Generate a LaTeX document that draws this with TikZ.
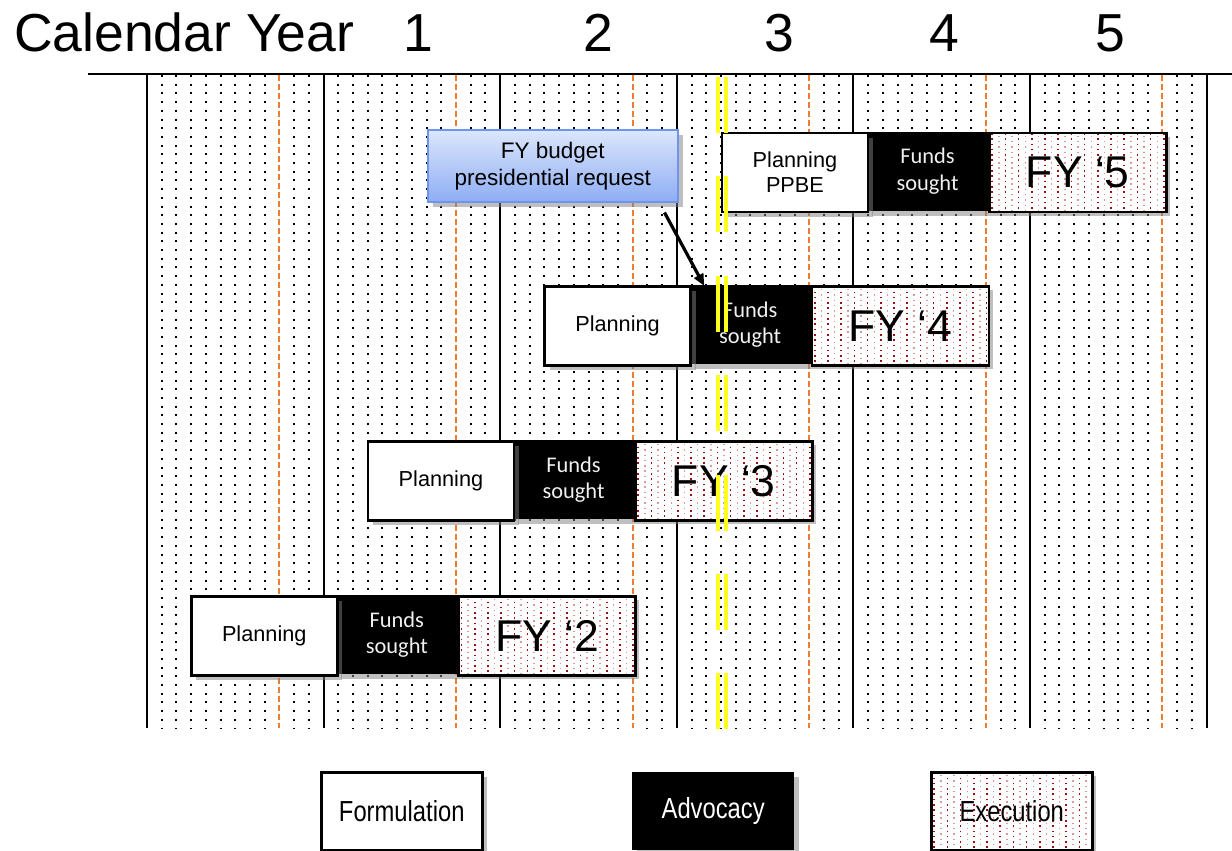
\documentclass[tikz,border=0pt]{standalone}
\usepackage{fontspec}
\setmainfont{Liberation Sans}
\newfontfamily\calfont{Carlito}
\newfontfamily\narrowfont[FakeStretch=0.82]{Liberation Sans}
\usetikzlibrary{arrows.meta,shadows}
\definecolor{orangeline}{HTML}{ED7D31}
\definecolor{dotred}{HTML}{9A1010}
\definecolor{dotpink}{HTML}{DA9A9A}
\definecolor{fytop}{HTML}{DCE6FC}
\definecolor{fybot}{HTML}{8EAEF3}
\definecolor{fyborder}{HTML}{6E95EE}
\definecolor{ylw}{HTML}{FFFF22}
\begin{document}
\begin{tikzpicture}[x=1pt,y=-1pt,
  myshadow/.style={drop shadow={shadow xshift=5pt,shadow yshift=-5pt,fill=black!50,opacity=0.5}},
  shadowfill/.style={fill=black!50,opacity=0.5},
  griddot/.style={line width=2pt,black,dash pattern=on 2pt off 6.7pt},
  yearline/.style={line width=2pt,black},
  fyline/.style={orangeline,line width=2pt,dash pattern=on 6pt off 3pt},
  ylwline/.style={ylw,line width=4pt,dash pattern=on 56pt off 43.4pt},
  headtext/.style={anchor=base,inner sep=0pt,font=\fontsize{53.5}{60}\selectfont},
  planbox/.style={draw=black,line width=2.5pt,fill=white,inner sep=0pt,anchor=north west,align=center,
    font=\fontsize{21.7}{25}\selectfont,myshadow,minimum height=79pt},
  fundbox/.style={fill=black,text=black!6,inner sep=0pt,anchor=north west,align=center,
    font=\calfont\fontsize{22.4}{26.7}\selectfont,myshadow,minimum height=79pt},
  legendtext/.style={font=\narrowfont\fontsize{29}{32}\selectfont},
  execbox/.style={draw=black,line width=2.5pt,fill=white,inner sep=0pt,anchor=north west,
    font=\fontsize{44.5}{50}\selectfont,minimum height=79pt,
    path picture={
      \foreach \i in {0,...,15}{
        \draw[dotred,line width=1.6pt,dash pattern=on 1.6pt off 3.7pt]
          ([xshift={3pt+\i*13.2pt}]path picture bounding box.north west) --
          ([xshift={3pt+\i*13.2pt}]path picture bounding box.south west);
        \draw[dotpink,line width=1.5pt,dash pattern=on 1.5pt off 3.8pt,dash phase=2.6pt]
          ([xshift={9.6pt+\i*13.2pt}]path picture bounding box.north west) --
          ([xshift={9.6pt+\i*13.2pt}]path picture bounding box.south west);
      }
    }},
  fybox/.style={top color=fytop,bottom color=fybot,draw=fyborder,line width=1.5pt,inner sep=0pt,
    anchor=north west,align=center,font=\fontsize{22.5}{27}\selectfont,myshadow},
  arrowst/.style={line width=3.2pt,-{Triangle[length=12pt,width=10pt]}}
]
\useasboundingbox (0,0) rectangle (1232,851);

% ---- grid ----
\foreach \yr in {0,...,5}{
  \foreach \m in {1,2,3,4,5,6,7,8,10,11}{
    \draw[griddot] ({147+\yr*176.6+\m*14.7167},75) -- ({147+\yr*176.6+\m*14.7167},728);
  }
}
\foreach \k in {0,...,6}{
  \draw[yearline] ({147+\k*176.6},74) -- ({147+\k*176.6},728);
}
\foreach \k in {0,...,5}{
  \draw[fyline] ({279.45+\k*176.6},75) -- ({279.45+\k*176.6},728);
}
\draw[line width=2pt] (88,74) -- (1232,74);

% ---- header ----
\node[anchor=base west,inner sep=0pt,font=\fontsize{53.5}{60}\selectfont] (title) at (14,52) {Calendar Year};
\node[headtext] (yr1) at (418,52) {1};
\node[headtext] (yr2) at (598,52) {2};
\node[headtext] (yr3) at (779,52) {3};
\node[headtext] (yr4) at (944,52) {4};
\node[headtext] (yr5) at (1110,52) {5};

% ---- FY budget request ----
\node[fybox,minimum width=250pt,minimum height=72pt] (fy) at (427,129) {FY budget\\presidential request};

% ---- FY '2 ----
\node[fundbox,minimum width=121.3pt] (f2) at (336,595) {Funds\\sought};
\node[planbox,minimum width=146pt] (p2) at (190,595) {Planning};
\fill[shadowfill] (462.3,600) rectangle (639.3,679);
\node[execbox,minimum width=177pt] (e2) at (457.3,595) {FY ‘2};

% ---- FY '3 ----
\node[fundbox,minimum width=121.3pt] (f3) at (512.7,440) {Funds\\sought};
\node[planbox,minimum width=146pt] (p3) at (366.7,440) {Planning};
\fill[shadowfill] (639,445) rectangle (816,524);
\node[execbox,minimum width=177pt] (e3) at (634,440) {FY ‘3};

% ---- FY '4 ----
\node[fundbox,minimum width=121.3pt] (f4) at (689.3,285) {Funds\\sought};
\node[planbox,minimum width=146pt] (p4) at (543.3,285) {Planning};
\fill[shadowfill] (815.6,290) rectangle (992.6,369);
\node[execbox,minimum width=177pt] (e4) at (810.6,285) {FY ‘4};

% ---- FY '5 ----
\node[fundbox,minimum width=121.3pt] (f5) at (866.7,131.7) {Funds\\sought};
\node[planbox,minimum width=146pt] (p5) at (720.7,131.7) {Planning\\PPBE};
\fill[shadowfill] (993,136.7) rectangle (1170,215.7);
\node[execbox,minimum width=177pt] (e5) at (988,131.7) {FY ‘5};

% ---- arrow ----
\coordinate (arrstart) at ([xshift=-14pt,yshift=-10pt]fy.south east);
\draw[arrowst] (arrstart) -- ([xshift=15pt,yshift=-1pt]f4.north west);

% ---- yellow double dashed line ----
\draw[ylwline] (718,77) -- (718,730);
\draw[ylwline] (726,77) -- (726,730);

% ---- legend ----
\node[planbox,minimum width=161pt,minimum height=78pt,legendtext] (lf) at (320,771) {Formulation};
\node[fundbox,minimum width=162pt,minimum height=78pt,text=white,legendtext] (la) at (632,772) {Advocacy};
\fill[shadowfill] (935,776) rectangle (1096,854);
\node[execbox,minimum width=161pt,minimum height=78pt,legendtext] (le) at (930,771) {Execution};
\end{tikzpicture}
\end{document}
